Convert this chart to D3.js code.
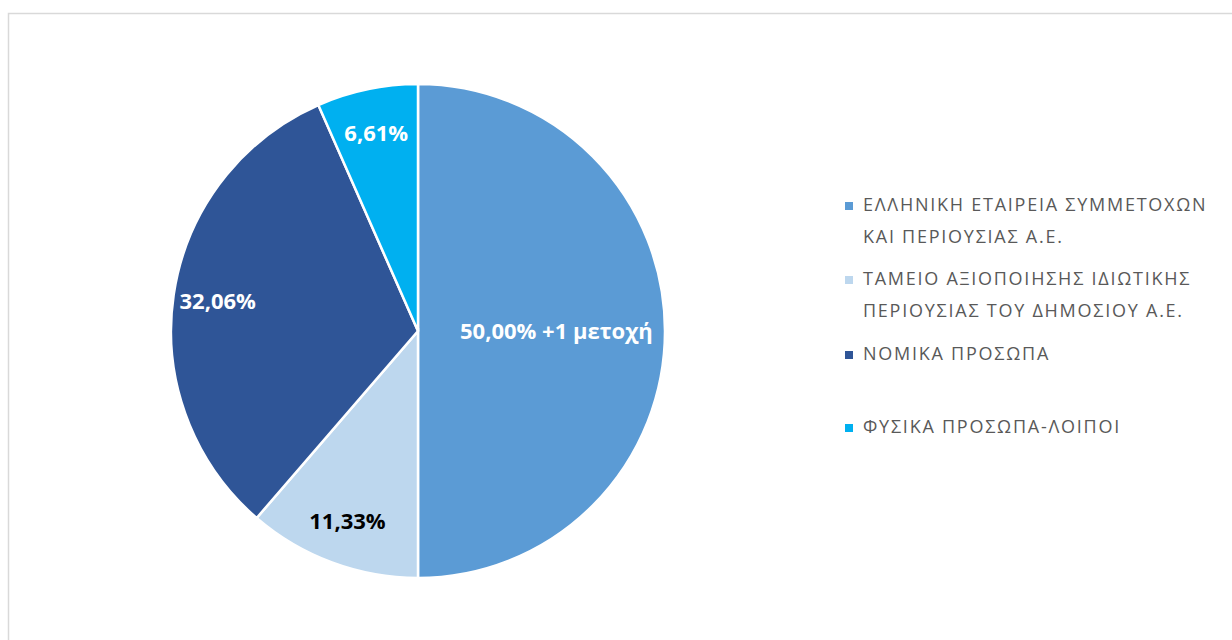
<!DOCTYPE html>
<html>
<head>
<meta charset="utf-8">
<script src="https://cdn.jsdelivr.net/npm/d3@7"></script>
<style>
	html, body { margin: 0; padding: 0; background: #ffffff; overflow: hidden; }
	#chart { width: 1232px; height: 640px; }
</style>
</head>
<body>
<div id="chart"></div>
<script>
// DATA
const categories = [
	'ΕΛΛΗΝΙΚΗ ΕΤΑΙΡΕΙΑ ΣΥΜΜΕΤΟΧΩΝ ΚΑΙ ΠΕΡΙΟΥΣΙΑΣ Α.Ε.',
	'ΤΑΜΕΙΟ ΑΞΙΟΠΟΙΗΣΗΣ ΙΔΙΩΤΙΚΗΣ ΠΕΡΙΟΥΣΙΑΣ ΤΟΥ ΔΗΜΟΣΙΟΥ Α.Ε.',
	'ΝΟΜΙΚΑ ΠΡΟΣΩΠΑ',
	'ΦΥΣΙΚΑ ΠΡΟΣΩΠΑ-ΛΟΙΠΟΙ'
];
const legendLines = [
	['ΕΛΛΗΝΙΚΗ ΕΤΑΙΡΕΙΑ ΣΥΜΜΕΤΟΧΩΝ', 'ΚΑΙ ΠΕΡΙΟΥΣΙΑΣ Α.Ε.'],
	['ΤΑΜΕΙΟ ΑΞΙΟΠΟΙΗΣΗΣ ΙΔΙΩΤΙΚΗΣ', 'ΠΕΡΙΟΥΣΙΑΣ ΤΟΥ ΔΗΜΟΣΙΟΥ Α.Ε.'],
	['ΝΟΜΙΚΑ ΠΡΟΣΩΠΑ'],
	['ΦΥΣΙΚΑ ΠΡΟΣΩΠΑ-ΛΟΙΠΟΙ']
];
const values = [50.00, 11.33, 32.06, 6.61];
const labels = ['50,00% +1 μετοχή', '11,33%', '32,06%', '6,61%'];
const colors = ['#5b9bd5', '#bdd7ee', '#2f5597', '#00b0f0'];
const labelColors = ['#ffffff', '#000000', '#ffffff', '#ffffff'];

const W = 1232, H = 640;
const cx = 418, cy = 331, radius = 247;

const svg = d3.select('#chart')
	.append('svg')
	.attr('width', W)
	.attr('height', H);

// chart area border (runs off the right/bottom edge)
svg.append('rect')
	.attr('x', 8.5).attr('y', 13.5)
	.attr('width', W + 20).attr('height', H + 20)
	.attr('fill', '#ffffff')
	.attr('stroke', '#d9d9d9')
	.attr('stroke-width', 1.5);

const pie = d3.pie().sort(null).value(d => d);
const arcs = pie(values);
const arc = d3.arc().innerRadius(0).outerRadius(radius);

const g = svg.append('g').attr('transform', `translate(${cx},${cy})`);

g.selectAll('path')
	.data(arcs)
	.enter()
	.append('path')
	.attr('d', arc)
	.attr('fill', (d, i) => colors[i])
	.attr('stroke', '#ffffff')
	.attr('stroke-width', 2.5)
	.attr('stroke-linejoin', 'miter');

// labels: big slice labels sit nearer the center, small ones near the rim
g.selectAll('text')
	.data(arcs)
	.enter()
	.append('text')
	.attr('transform', d => {
		const k = (d.endAngle - d.startAngle) > Math.PI * 0.9 ? 0.56 : 0.82;
		const a = (d.startAngle + d.endAngle) / 2;
		return `translate(${Math.sin(a) * radius * k},${-Math.cos(a) * radius * k})`;
	})
	.attr('dy', '0.35em')
	.attr('text-anchor', 'middle')
	.style('font-family', '"Open Sans", sans-serif')
	.style('font-weight', '700')
	.style('font-size', '22px')
	.style('fill', (d, i) => labelColors[i])
	.text((d, i) => labels[i]);

// Legend
const legendTop = [205, 279, 354, 427];
const legend = svg.append('g').attr('transform', 'translate(845,0)');
const items = legend.selectAll('g')
	.data(categories)
	.enter()
	.append('g')
	.attr('transform', (d, i) => `translate(0,${legendTop[i]})`);

items.append('rect')
	.attr('x', 0).attr('y', -3)
	.attr('width', 8).attr('height', 8)
	.attr('fill', (d, i) => colors[i]);

items.each(function(d, i) {
	const t = d3.select(this).append('text')
		.style('font-family', '"Open Sans", sans-serif')
		.style('font-size', '18px')
		.style('letter-spacing', '1.75px')
		.style('fill', '#595959');
	legendLines[i].forEach((line, j) => {
		t.append('tspan')
			.attr('x', 18)
			.attr('y', j * 32)
			.attr('dy', '0.35em')
			.text(line);
	});
});
</script>
</body>
</html>
